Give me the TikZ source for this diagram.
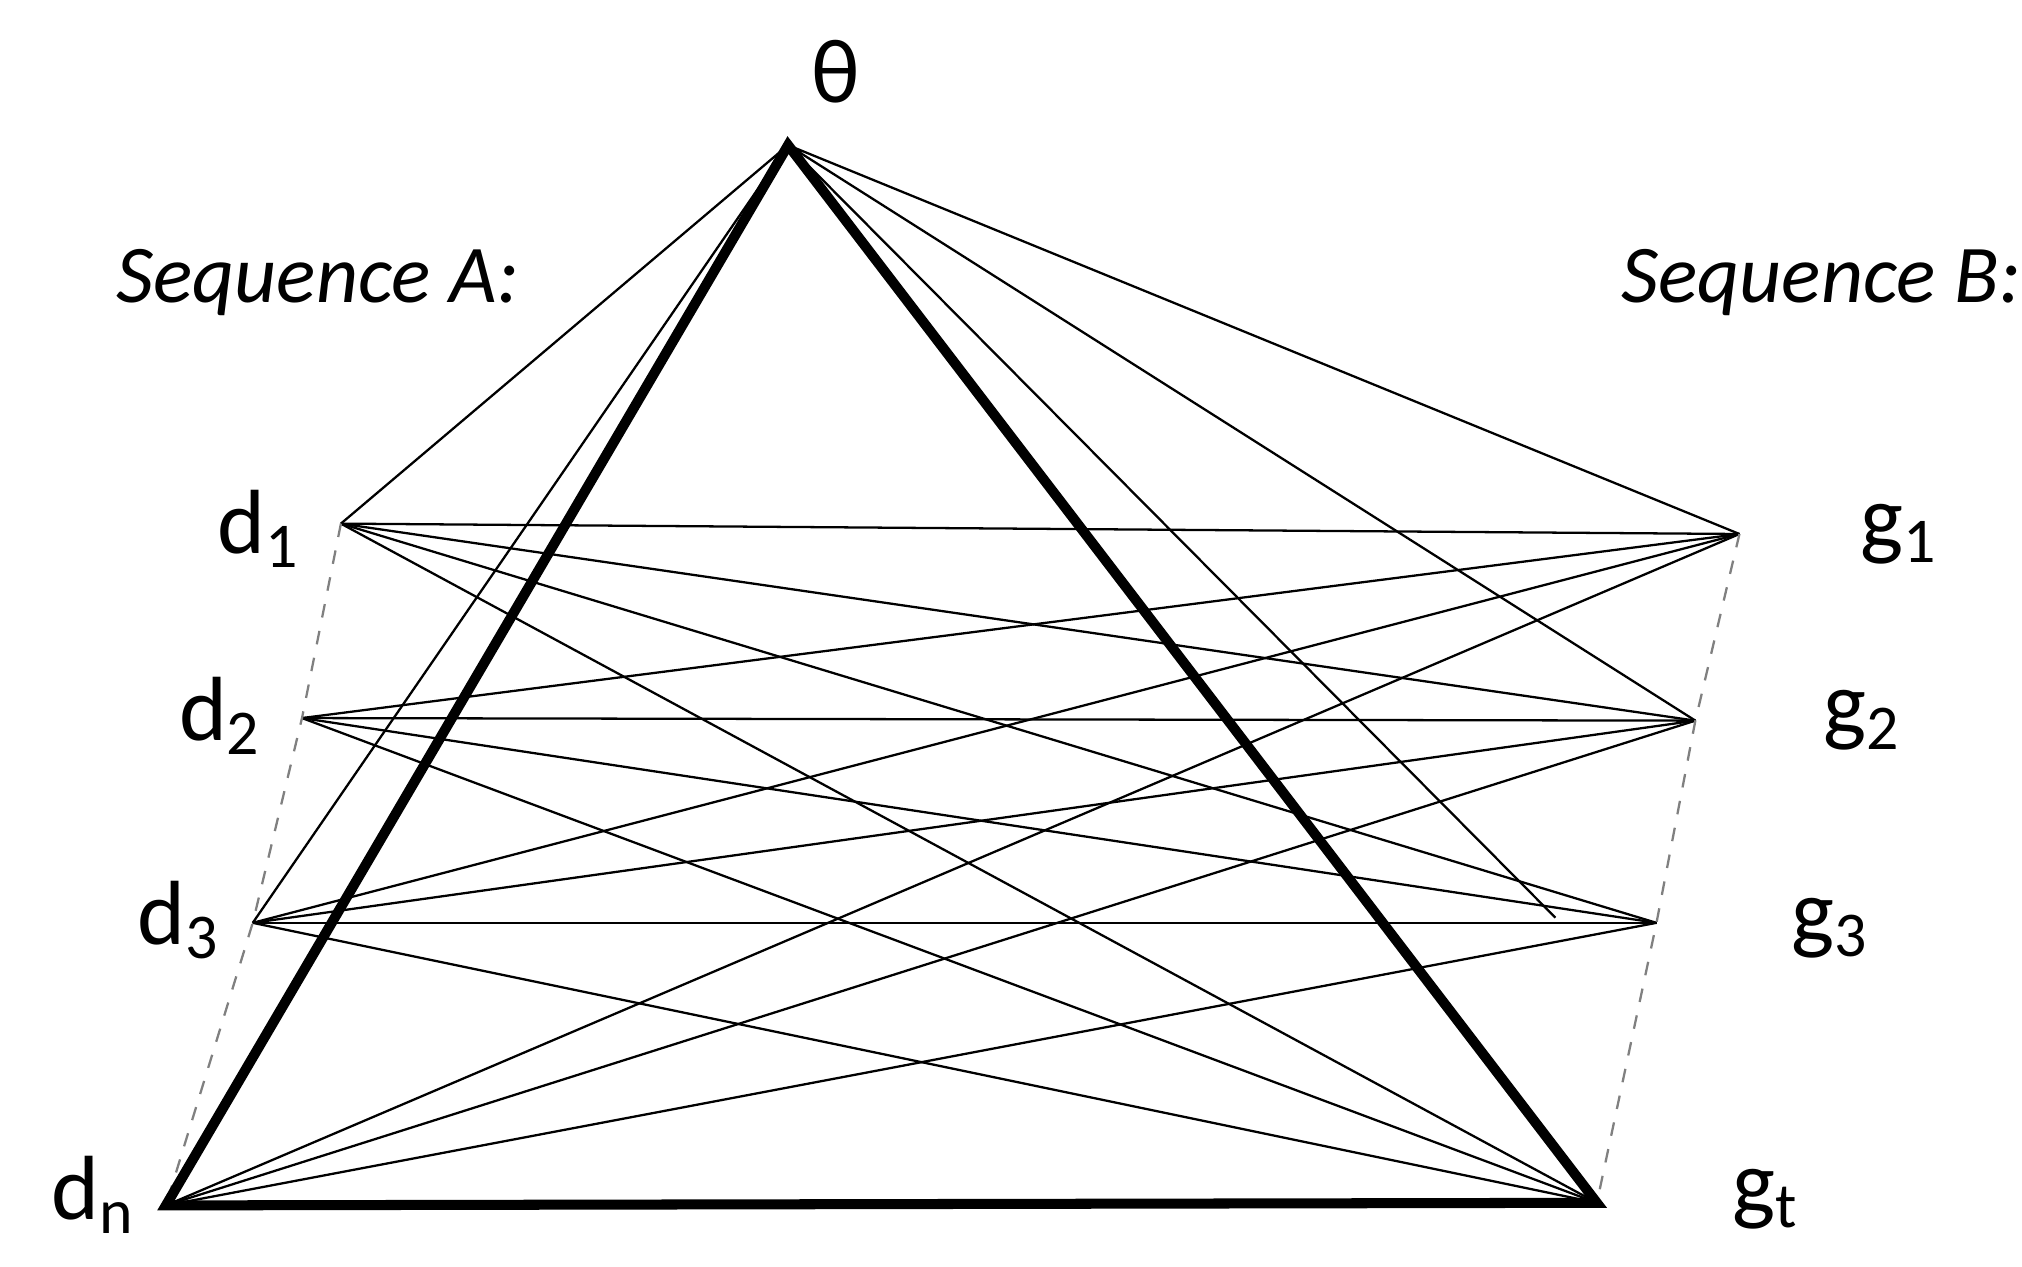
\documentclass[tikz,border=0pt]{standalone}
\usepackage{fontspec}
\setmainfont{Carlito}
\begin{document}
\begin{tikzpicture}[x=0.01cm,y=-0.01cm,
  thin/.style={line width=0.5pt},
  thick3/.style={line width=2.2pt,line join=miter},
  lab/.style={font=\fontsize{20}{22}\selectfont}]
\useasboundingbox (0,0) rectangle (1560,977);
\coordinate (t) at (608,112);
\coordinate (d1) at (263,404);
\coordinate (d2) at (233,554);
\coordinate (d3) at (195,712);
\coordinate (dn) at (128,930);
\coordinate (g1) at (1342,412);
\coordinate (g2) at (1308,556);
\coordinate (g3) at (1278,712);
\coordinate (gt) at (1232,928);
\foreach \a in {d1,d2,d3,dn}
  \foreach \b in {g1,g2,g3,gt}
    \draw[thin] (\a) -- (\b);
\draw[thin] (t) -- (d1) (t) -- (d3) (t) -- (g1) (t) -- (g2) (t) -- (1200,708);
\draw[thin,dashed,gray] (d1) -- (d2) -- (d3) -- (dn);
\draw[thin,dashed,gray] (g1) -- (g2) -- (g3) -- (gt);
\draw[thick3] (t) -- (dn) -- (gt) -- cycle;
\node[lab] (th) at (645,55) {θ};
\node[lab] (la) at (200,408) {d\textsubscript{1}};
\node[lab] (lb) at (170,552) {d\textsubscript{2}};
\node[lab] (lc) at (138,710) {d\textsubscript{3}};
\node[lab] (ld) at (72,922) {d\textsubscript{n}};
\node[lab] (le) at (1465,412) {g\textsubscript{1}};
\node[lab] (lf) at (1437,556) {g\textsubscript{2}};
\node[lab] (lg) at (1412,716) {g\textsubscript{3}};
\node[lab] (lh) at (1362,925) {g\textsubscript{t}};
\node[lab,font=\fontsize{18}{20}\selectfont\itshape] (sa) at (245,218) {Sequence A:};
\node[lab,font=\fontsize{18}{20}\selectfont\itshape] (sb) at (1405,218) {Sequence B:};
\end{tikzpicture}
\end{document}
